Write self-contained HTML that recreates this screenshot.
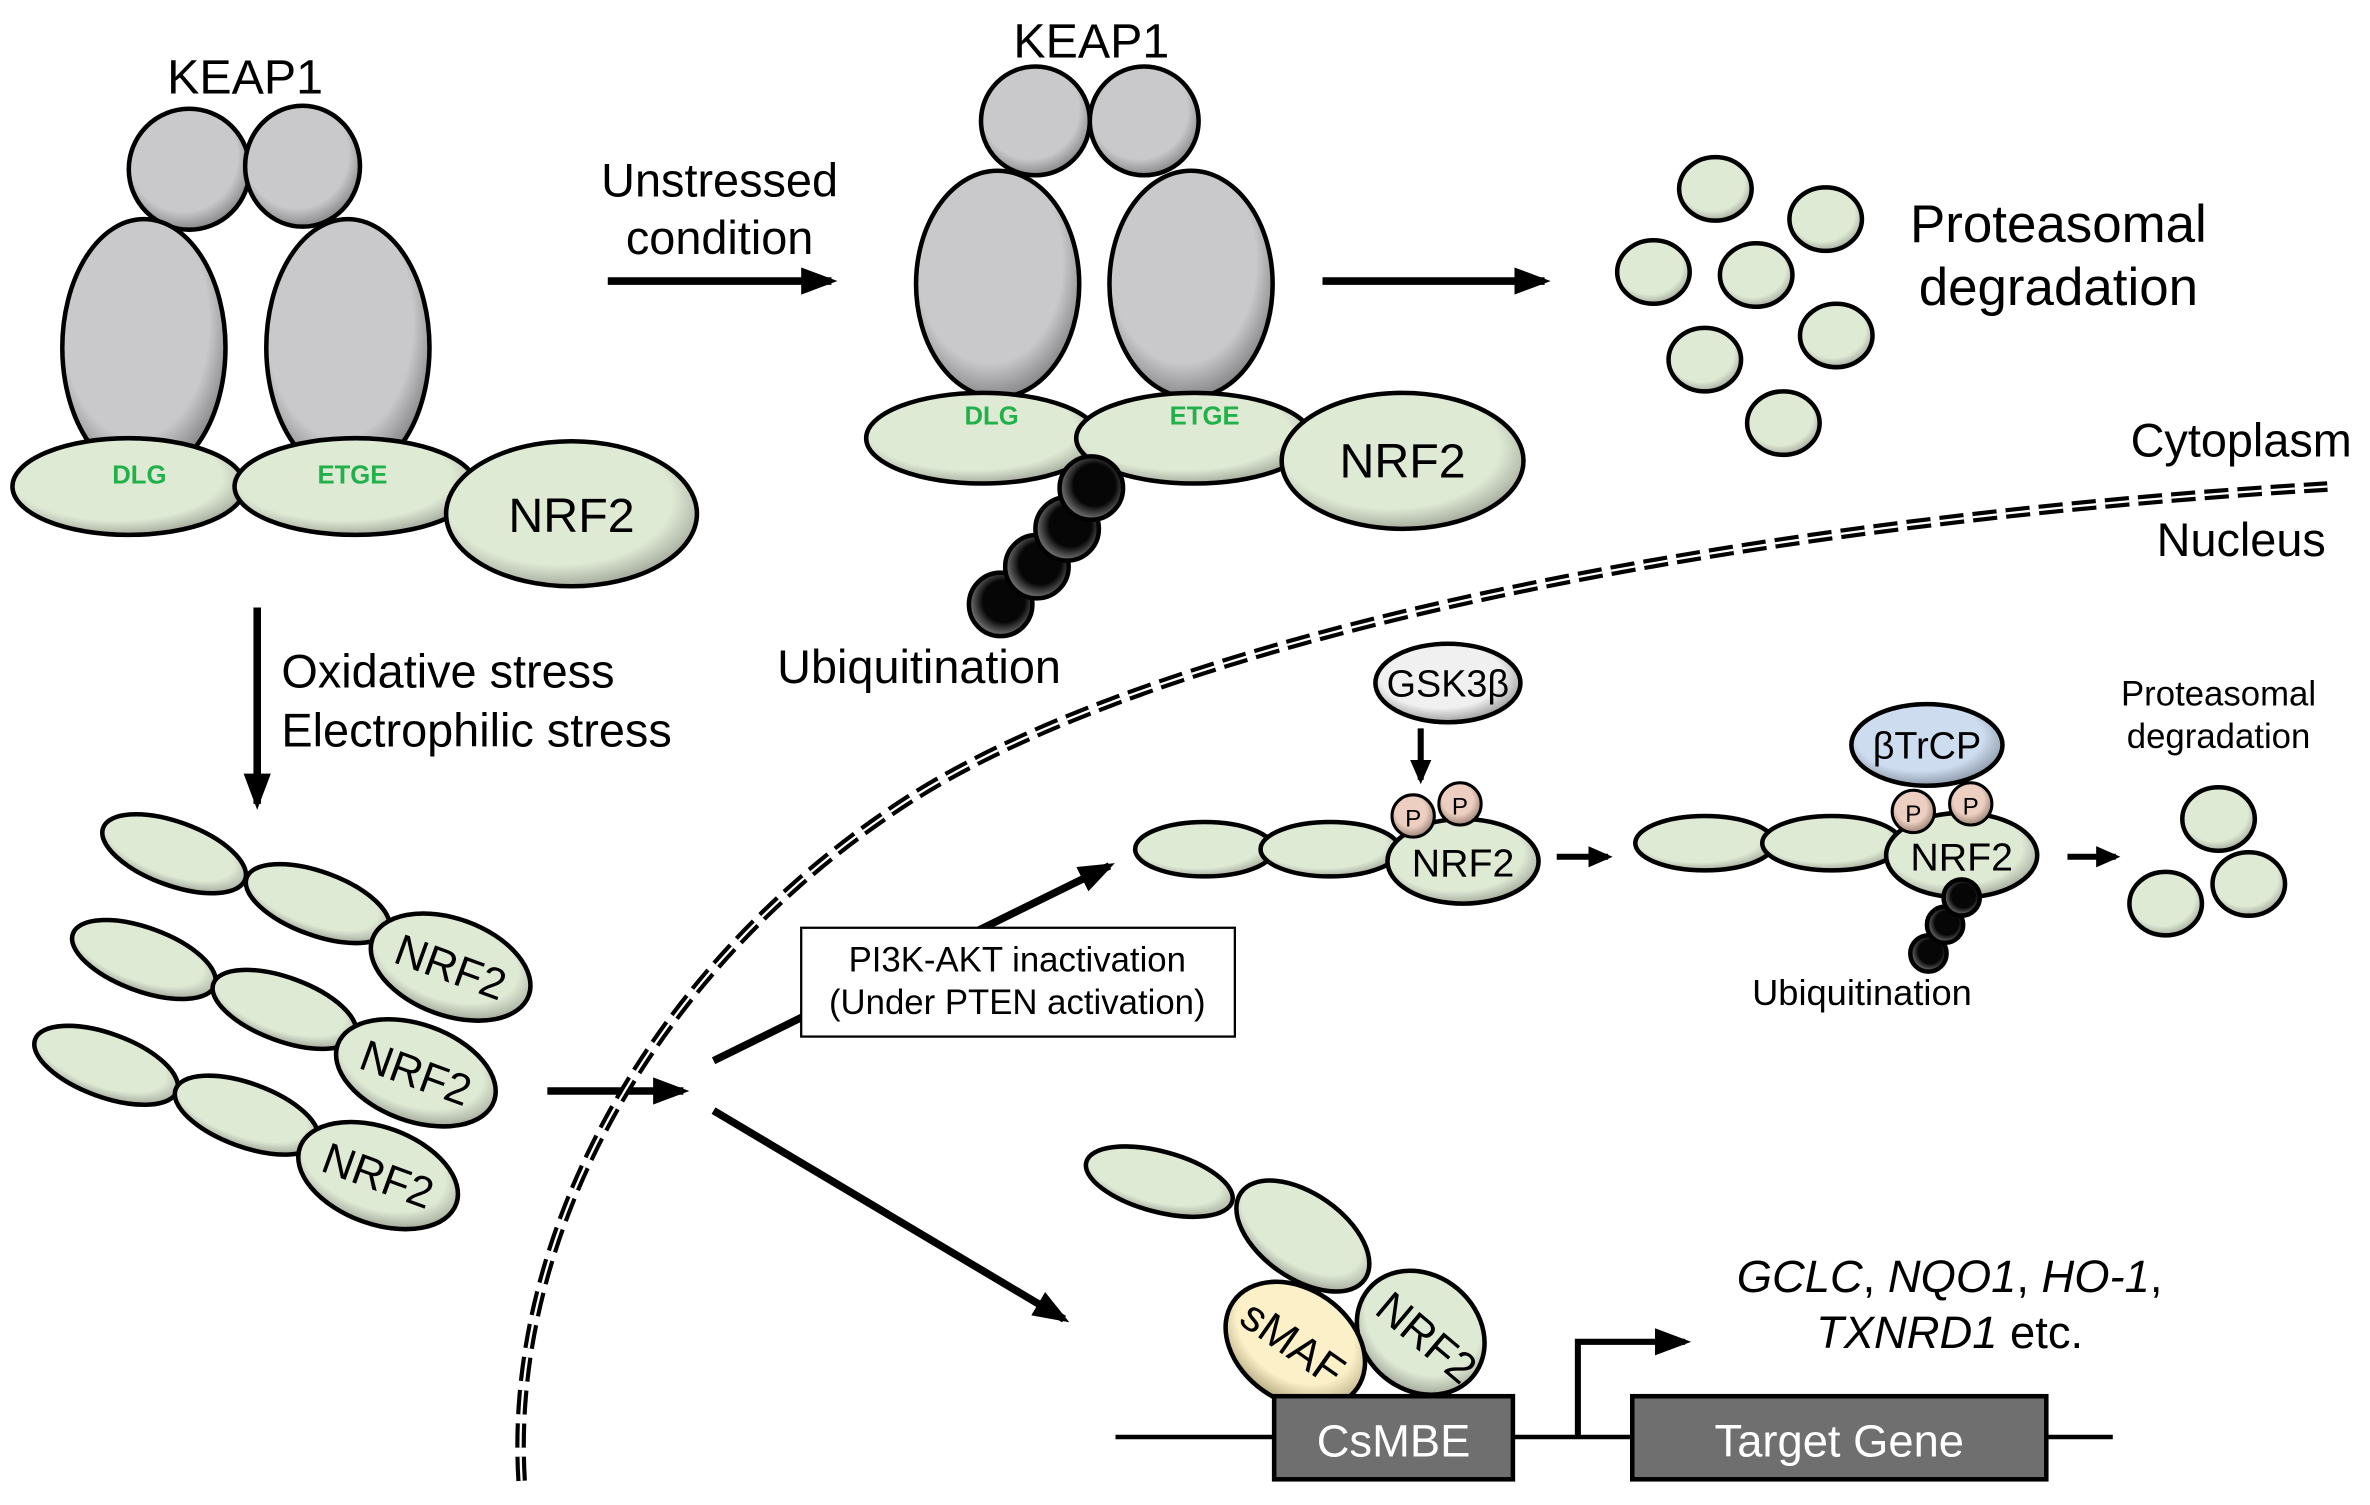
<!DOCTYPE html>
<html><head><meta charset="utf-8"><style>html,body{margin:0;padding:0;background:#fff}svg{display:block}text{font-family:"Liberation Sans",sans-serif}</style></head><body>
<svg width="2370" height="1505" viewBox="0 0 1568 996" xmlns="http://www.w3.org/2000/svg">
<defs>
<radialGradient id="g" cx="45%" cy="40%" r="60%"><stop offset="75%" stop-color="#c9c8ca"/><stop offset="100%" stop-color="#8a898b"/></radialGradient>
<radialGradient id="gr" cx="45%" cy="40%" r="60%"><stop offset="75%" stop-color="#dfead5"/><stop offset="100%" stop-color="#a7ad9f"/></radialGradient>
<radialGradient id="bk" cx="55%" cy="45%" r="55%"><stop offset="60%" stop-color="#060606"/><stop offset="100%" stop-color="#777"/></radialGradient>
<radialGradient id="pk" cx="45%" cy="40%" r="60%"><stop offset="60%" stop-color="#eccfc0"/><stop offset="100%" stop-color="#9c8478"/></radialGradient>
<radialGradient id="bl" cx="45%" cy="40%" r="60%"><stop offset="70%" stop-color="#cddcef"/><stop offset="100%" stop-color="#8d9aab"/></radialGradient>
<radialGradient id="ye" cx="45%" cy="40%" r="60%"><stop offset="70%" stop-color="#fbf0c8"/><stop offset="100%" stop-color="#b9ad86"/></radialGradient>
<radialGradient id="wh" cx="45%" cy="40%" r="60%"><stop offset="70%" stop-color="#f0f0f0"/><stop offset="100%" stop-color="#a0a0a0"/></radialGradient>
<marker id="ah" markerWidth="24" markerHeight="18" refX="20" refY="9" orient="auto" markerUnits="userSpaceOnUse" viewBox="0 0 24 18"><path d="M0,0 L24,9 L0,18 z"/></marker>
<marker id="as" markerWidth="16" markerHeight="14" refX="13" refY="7" orient="auto" markerUnits="userSpaceOnUse" viewBox="0 0 16 14"><path d="M0,0 L16,7 L0,14 z"/></marker>
</defs>
<g stroke="#000" stroke-width="3">
<ellipse cx="125" cy="112" rx="40" ry="40" fill="url(#g)"/>
<ellipse cx="200" cy="110" rx="38" ry="40" fill="url(#g)"/>
<ellipse cx="95" cy="230" rx="54" ry="85" fill="url(#g)"/>
<ellipse cx="230" cy="230" rx="54" ry="85" fill="url(#g)"/>
<ellipse cx="85" cy="322" rx="77" ry="32" fill="url(#gr)"/>
<ellipse cx="235" cy="322" rx="80" ry="32" fill="url(#gr)"/>
<ellipse cx="378" cy="340" rx="83" ry="48" fill="url(#gr)"/>
<ellipse cx="685" cy="80" rx="36" ry="36" fill="url(#g)"/>
<ellipse cx="757" cy="80" rx="36" ry="36" fill="url(#g)"/>
<ellipse cx="660" cy="188" rx="54" ry="75" fill="url(#g)"/>
<ellipse cx="788" cy="188" rx="54" ry="75" fill="url(#g)"/>
<ellipse cx="650" cy="290" rx="77" ry="30" fill="url(#gr)"/>
<ellipse cx="790" cy="290" rx="78" ry="30" fill="url(#gr)"/>
<ellipse cx="928" cy="305" rx="80" ry="45" fill="url(#gr)"/>
<circle cx="662" cy="400" r="21" fill="url(#bk)"/>
<circle cx="686" cy="375" r="21" fill="url(#bk)"/>
<circle cx="706" cy="350" r="21" fill="url(#bk)"/>
<circle cx="722" cy="323" r="21" fill="url(#bk)"/>
<ellipse cx="1135" cy="125" rx="24" ry="21" fill="url(#gr)"/>
<ellipse cx="1208" cy="145" rx="24" ry="21" fill="url(#gr)"/>
<ellipse cx="1094" cy="180" rx="24" ry="21" fill="url(#gr)"/>
<ellipse cx="1162" cy="182" rx="24" ry="21" fill="url(#gr)"/>
<ellipse cx="1215" cy="222" rx="24" ry="21" fill="url(#gr)"/>
<ellipse cx="1128" cy="238" rx="24" ry="21" fill="url(#gr)"/>
<ellipse cx="1180" cy="280" rx="24" ry="21" fill="url(#gr)"/>
<ellipse cx="115" cy="565" rx="50" ry="21" transform="rotate(20 115 565)" fill="url(#gr)"/>
<ellipse cx="210" cy="598" rx="50" ry="21" transform="rotate(20 210 598)" fill="url(#gr)"/>
<ellipse cx="298" cy="640" rx="55" ry="32" transform="rotate(20 298 640)" fill="url(#gr)"/>
<ellipse cx="95" cy="635" rx="50" ry="21" transform="rotate(20 95 635)" fill="url(#gr)"/>
<ellipse cx="188" cy="668" rx="50" ry="21" transform="rotate(20 188 668)" fill="url(#gr)"/>
<ellipse cx="275" cy="710" rx="55" ry="32" transform="rotate(20 275 710)" fill="url(#gr)"/>
<ellipse cx="70" cy="705" rx="50" ry="21" transform="rotate(20 70 705)" fill="url(#gr)"/>
<ellipse cx="163" cy="738" rx="50" ry="21" transform="rotate(20 163 738)" fill="url(#gr)"/>
<ellipse cx="250" cy="778" rx="55" ry="32" transform="rotate(20 250 778)" fill="url(#gr)"/>
<ellipse cx="797" cy="562" rx="46" ry="18" fill="url(#gr)"/>
<ellipse cx="880" cy="562" rx="46" ry="18" fill="url(#gr)"/>
<ellipse cx="968" cy="570" rx="50" ry="28" fill="url(#gr)"/>
<circle cx="935" cy="540" r="14" fill="url(#pk)" stroke-width="2"/>
<circle cx="966" cy="532" r="14" fill="url(#pk)" stroke-width="2"/>
<ellipse cx="958" cy="452" rx="48" ry="26" fill="url(#wh)"/>
<ellipse cx="1128" cy="558" rx="46" ry="18" fill="url(#gr)"/>
<ellipse cx="1212" cy="558" rx="46" ry="18" fill="url(#gr)"/>
<ellipse cx="1298" cy="566" rx="50" ry="28" fill="url(#gr)"/>
<ellipse cx="1275" cy="493" rx="50" ry="27" fill="url(#bl)"/>
<circle cx="1266" cy="537" r="14" fill="url(#pk)" stroke-width="2"/>
<circle cx="1304" cy="532" r="14" fill="url(#pk)" stroke-width="2"/>
<circle cx="1276" cy="631" r="12" fill="url(#bk)"/>
<circle cx="1287" cy="612" r="12" fill="url(#bk)"/>
<circle cx="1298" cy="594" r="12" fill="url(#bk)"/>
<ellipse cx="1468" cy="542" rx="24" ry="21" fill="url(#gr)"/>
<ellipse cx="1433" cy="598" rx="24" ry="21" fill="url(#gr)"/>
<ellipse cx="1488" cy="585" rx="24" ry="21" fill="url(#gr)"/>
<ellipse cx="767" cy="782" rx="50" ry="20" transform="rotate(15 767 782)" fill="url(#gr)"/>
<ellipse cx="862" cy="818" rx="50" ry="28" transform="rotate(35 862 818)" fill="url(#gr)"/>
<ellipse cx="940" cy="882" rx="45" ry="38" transform="rotate(40 940 882)" fill="url(#gr)"/>
<ellipse cx="857" cy="890" rx="50" ry="37" transform="rotate(35 857 890)" fill="url(#ye)"/>
<line x1="738" y1="951" x2="1398" y2="951" stroke-width="3"/>
<rect x="843" y="924" width="158" height="55" fill="#6f6f6f"/>
<rect x="1080" y="924" width="274" height="55" fill="#6f6f6f"/>
<polyline points="1044,951 1044,888 1115,888" fill="none" stroke-width="4" marker-end="url(#ah)"/>
<g stroke-width="5" fill="none" marker-end="url(#ah)">
<line x1="402" y1="186" x2="550" y2="186"/>
<line x1="875" y1="186" x2="1022" y2="186"/>
<line x1="170" y1="402" x2="170" y2="532"/>
<line x1="362" y1="722" x2="452" y2="722"/>
<line x1="472" y1="702" x2="734" y2="573"/>
<line x1="472" y1="735" x2="704" y2="873"/>
</g>
<g stroke-width="4" fill="none" marker-end="url(#as)">
<line x1="940" y1="482" x2="940" y2="516"/>
<line x1="1030" y1="567" x2="1064" y2="567"/>
<line x1="1368" y1="567" x2="1400" y2="567"/>
</g>
<rect x="530" y="614" width="287" height="72" fill="#fff" stroke-width="1.5"/>
</g>
<path d="M345,980 C335,820 430,640 600,530 S1150,345 1540,322" fill="none" stroke="#000" stroke-width="7" stroke-dasharray="16,6"/>
<path d="M345,980 C335,820 430,640 600,530 S1150,345 1540,322" fill="none" stroke="#fff" stroke-width="1.5" stroke-dasharray="16,6"/>
<g font-size="32" text-anchor="middle">
<text x="162" y="62">KEAP1</text>
<text x="722" y="38">KEAP1</text>
<text x="378" y="352">NRF2</text>
<text x="928" y="316">NRF2</text>
<text x="476" y="130" font-size="31">Unstressed</text>
<text x="476" y="168" font-size="31">condition</text>
<text x="1362" y="160" font-size="35">Proteasomal</text>
<text x="1362" y="202" font-size="35">degradation</text>
<text x="1483" y="302" font-size="31">Cytoplasm</text>
<text x="1483" y="368" font-size="31">Nucleus</text>
<text x="608" y="452" font-size="31">Ubiquitination</text>
</g>
<g font-size="17" font-weight="bold" fill="#22b04b" text-anchor="middle">
<text x="92" y="320">DLG</text><text x="233" y="320">ETGE</text>
<text x="656" y="281">DLG</text><text x="797" y="281">ETGE</text>
</g>
<text x="186" y="455" font-size="31">Oxidative stress</text>
<text x="186" y="494" font-size="31">Electrophilic stress</text>
<g font-size="29" text-anchor="middle">
<text x="298" y="650" transform="rotate(20 298 640)">NRF2</text>
<text x="275" y="720" transform="rotate(20 275 710)">NRF2</text>
<text x="250" y="788" transform="rotate(20 250 778)">NRF2</text>
<text x="945" y="892" transform="rotate(40 940 882)">NRF2</text>
<text x="855" y="900" transform="rotate(35 857 890)">sMAF</text>
</g>
<g font-size="23" text-anchor="middle">
<text x="673" y="643">PI3K-AKT inactivation</text>
<text x="673" y="671">(Under PTEN activation)</text>
<text x="958" y="461" font-size="25">GSK3β</text>
<text x="1275" y="502" font-size="25">βTrCP</text>
<text x="968" y="580" font-size="26">NRF2</text>
<text x="1298" y="576" font-size="26">NRF2</text>
<text x="935" y="547" font-size="16">P</text><text x="966" y="539" font-size="16">P</text>
<text x="1266" y="544" font-size="16">P</text><text x="1304" y="539" font-size="16">P</text>
<text x="1232" y="665" font-size="24">Ubiquitination</text>
<text x="1468" y="467">Proteasomal</text>
<text x="1468" y="495">degradation</text>
<text x="922" y="964" font-size="30" fill="#fff">CsMBE</text>
<text x="1217" y="964" font-size="30" fill="#fff">Target Gene</text>
<text x="1290" y="855" font-size="30"><tspan font-style="italic">GCLC</tspan>, <tspan font-style="italic">NQO1</tspan>, <tspan font-style="italic">HO-1</tspan>,</text>
<text x="1290" y="892" font-size="30"><tspan font-style="italic">TXNRD1</tspan> etc.</text>
</g>
</svg>
</body></html>
